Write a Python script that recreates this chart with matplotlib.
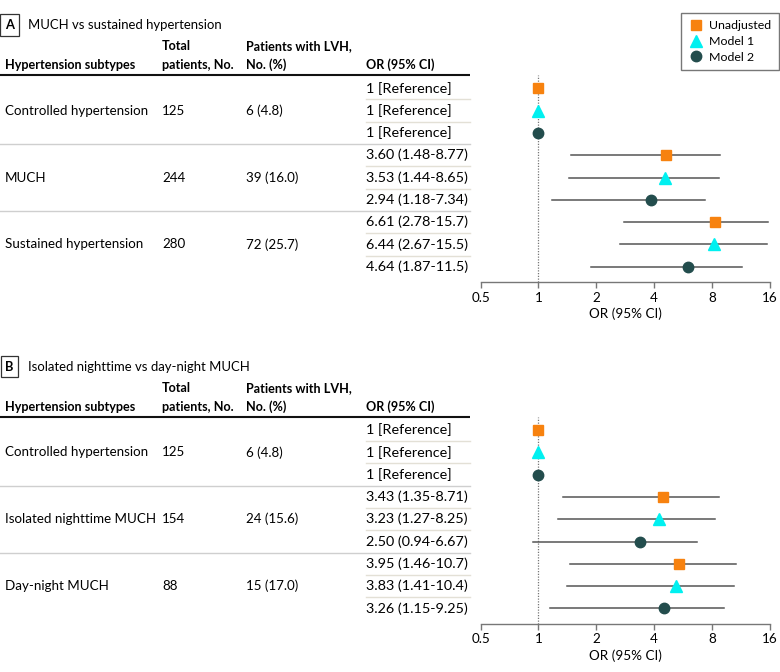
import matplotlib
matplotlib.use("Agg")
import matplotlib.pyplot as plt

plt.rcParams['font.family'] = ['Lato', 'DejaVu Sans']

# ---------------- data ----------------
models = ["Unadjusted", "Model 1", "Model 2"]

titleA = "MUCH vs sustained hypertension"
subtypesA = ["Controlled hypertension", "MUCH", "Sustained hypertension"]
totalA = [125, 244, 280]
lvh_nA = [6, 39, 72]
lvh_pctA = [4.8, 16.0, 25.7]
orA = [1, 1, 1, 3.60, 3.53, 2.94, 6.61, 6.44, 4.64]
loA = [None, None, None, 1.48, 1.44, 1.18, 2.78, 2.67, 1.87]
hiA = [None, None, None, 8.77, 8.65, 7.34, 15.7, 15.5, 11.5]
# marker positions as drawn in the reference picture
markA = [1, 1, 1, 4.6, 4.54, 3.83, 8.3, 8.17, 6.0]

titleB = "Isolated nighttime vs day-night MUCH"
subtypesB = ["Controlled hypertension", "Isolated nighttime MUCH", "Day-night MUCH"]
totalB = [125, 154, 88]
lvh_nB = [6, 24, 15]
lvh_pctB = [4.8, 15.6, 17.0]
orB = [1, 1, 1, 3.43, 3.23, 2.50, 3.95, 3.83, 3.26]
loB = [None, None, None, 1.35, 1.27, 0.94, 1.46, 1.41, 1.15]
hiB = [None, None, None, 8.71, 8.25, 6.67, 10.7, 10.4, 9.25]
markB = [1, 1, 1, 4.47, 4.26, 3.38, 5.37, 5.2, 4.52]

xticks = [0.5, 1, 2, 4, 8, 16]
xticklabels = ["0.5", "1", "2", "4", "8", "16"]

# ---------------- style ----------------
colors = ["#F7820F", "#00F0F0", "#234D4D"]
markers = ["s", "^", "o"]
msizes = [7.5, 8, 7.5]
W, H = 780, 672

fig = plt.figure(figsize=(W / 100, H / 100), dpi=100)
bg = fig.add_axes([0, 0, 1, 1])
bg.set_xlim(0, W)
bg.set_ylim(H, 0)
bg.axis("off")

FS = 9.6     # body labels
HFS = 9.1    # bold headers
TFS = 9.47   # panel titles
OFS = 10.4   # OR column
LFS = 8.9    # legend
XFS = 9.7    # axis ticks / label


def fmt(v):
    return f"{v:.1f}" if v >= 10 else f"{v:.2f}"


def panel(letter, title, subtypes, total, lvh_n, lvh_pct, ors, los, his, marks, top):
    rule = top
    row0 = rule + 13.3
    dy = 22.3
    axis_y = top + 207
    # title
    bg.text(9.5, rule - 50, letter, ha="center", va="center", fontsize=9.3, fontweight="bold",
            bbox=dict(boxstyle="square,pad=0.35", fc="white", ec="#333333", lw=0.9))
    bg.text(28, rule - 50, title, ha="left", va="center", fontsize=TFS)
    # headers
    hy1, hy2 = rule - 28.5, rule - 10
    kw = dict(ha="left", va="center", fontsize=HFS, fontweight="bold")
    bg.text(5, hy2, "Hypertension subtypes", **kw)
    bg.text(162, hy1, "Total", **kw)
    bg.text(162, hy2, "patients, No.", **kw)
    bg.text(246, hy1, "Patients with LVH,", **kw)
    bg.text(246, hy2, "No. (%)", **kw)
    bg.text(366, hy2, "OR (95% CI)", **kw)
    bg.plot([0, 470], [rule, rule], color="#111111", lw=1.5, solid_capstyle="butt")
    # rows
    for g in range(len(subtypes)):
        yc = row0 + (3 * g + 1) * dy
        bg.text(5, yc, subtypes[g], ha="left", va="center", fontsize=FS)
        bg.text(162, yc, str(total[g]), ha="left", va="center", fontsize=FS)
        bg.text(246, yc, f"{lvh_n[g]} ({lvh_pct[g]:.1f})", ha="left", va="center", fontsize=FS)
        if g > 0:
            ys = row0 + (3 * g - 0.5) * dy
            bg.plot([0, 470], [ys, ys], color="#cfcfcf", lw=1.0)
        for k in range(2):
            ys = row0 + (3 * g + k + 0.5) * dy
            bg.plot([366, 470], [ys, ys], color="#e3e0d6", lw=1.0)
    for i in range(len(ors)):
        yc = row0 + i * dy
        if los[i] is None:
            s = "1 [Reference]"
        else:
            s = f"{ors[i]:.2f} ({fmt(los[i])}-{fmt(his[i])})"
        bg.text(366, yc, s, ha="left", va="center", fontsize=OFS)

    # forest axes
    x0, x1 = 480.5, 770
    ax = fig.add_axes([x0 / W, 1 - axis_y / H, (x1 - x0) / W, (axis_y - rule) / H])
    ax.set_xscale("log", base=2)
    ax.set_xlim(0.5, 16)
    ax.set_ylim((axis_y - row0) / dy, -(row0 - rule) / dy)
    ax.patch.set_alpha(0)
    for sp in ["top", "right", "left"]:
        ax.spines[sp].set_visible(False)
    ax.spines["bottom"].set_color("#777777")
    ax.spines["bottom"].set_linewidth(1.0)
    ax.set_yticks([])
    ax.set_xticks(xticks)
    ax.set_xticklabels(xticklabels)
    ax.minorticks_off()
    ax.tick_params(axis="x", direction="out", length=4, width=1.0, color="#777777",
                   labelsize=XFS, pad=3)
    ax.set_xlabel("OR (95% CI)", fontsize=XFS, labelpad=3)
    ax.axvline(1, color="#777777", lw=0.9, ls=(0, (1, 1.2)), zorder=1)
    handles = []
    for i in range(len(ors)):
        m = i % 3
        if los[i] is not None:
            ax.plot([los[i], his[i]], [i, i], color="#555555", lw=1.1, zorder=2)
        h, = ax.plot([marks[i]], [i], marker=markers[m], color=colors[m], ms=msizes[m],
                     ls="none", zorder=3, mec=colors[m])
        if i < 3:
            handles.append(h)
    return ax, handles


axA, handles = panel("A", titleA, subtypesA, totalA, lvh_nA, lvh_pctA, orA, loA, hiA, markA, 75)
axB, _ = panel("B", titleB, subtypesB, totalB, lvh_nB, lvh_pctB, orB, loB, hiB, markB, 416.7)

leg = fig.legend(handles, models, loc="upper right", bbox_to_anchor=(779 / W, 1 - 13 / H),
                 frameon=True, fancybox=False, fontsize=LFS, handlelength=1.33,
                 handletextpad=0.39, borderpad=0.6, labelspacing=0.38, borderaxespad=0)
leg.get_frame().set_edgecolor("#555555")
leg.get_frame().set_linewidth(1.0)

fig.savefig("out.png", dpi=100)
